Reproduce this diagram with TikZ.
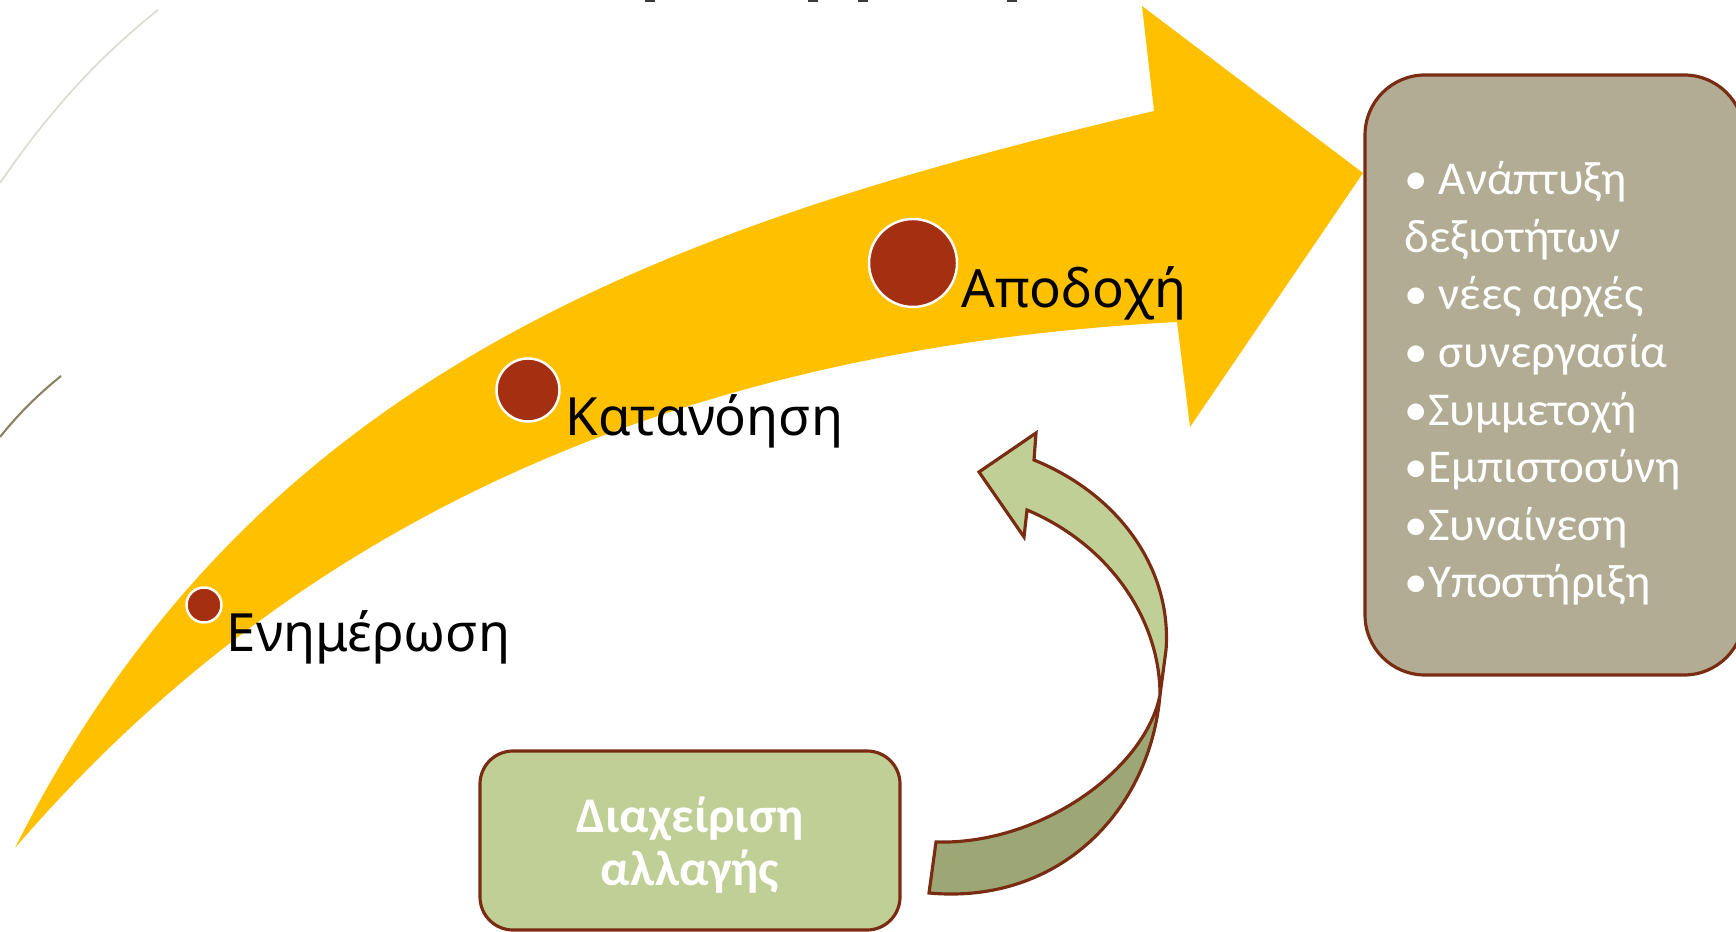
\documentclass[tikz,border=0pt]{standalone}
\usepackage{fontspec}
\setmainfont{Carlito}
\newfontfamily\stagefont{Noto Sans}
\usepackage{tikz}
\definecolor{arrowgold}{HTML}{FFC000}
\definecolor{dotred}{HTML}{A52F11}
\definecolor{edgered}{HTML}{7A2C12}
\definecolor{boxtan}{HTML}{B2AC94}
\definecolor{leafgreen}{HTML}{C0CF95}
\definecolor{shadegreen}{HTML}{9CA775}
\definecolor{faintgrey}{HTML}{DDDCD3}
\definecolor{olivegrey}{HTML}{8A8262}
\definecolor{titlegrey}{HTML}{3A3A3A}
\tikzset{
	stagedot/.style={fill=dotred, draw=white, line width=0.7pt},
	stagelabel/.style={anchor=base west, font=\stagefont\fontsize{15}{18}\selectfont},
	gainbox/.style={fill=boxtan, draw=edgered, line width=0.9pt, rounded corners=6mm},
	changebox/.style={fill=leafgreen, draw=edgered, line width=0.9pt, rounded corners=3.3mm}
}
\begin{document}
\begin{tikzpicture}[scale=0.1]
			\tikzstyle{every node}+=[inner sep=0pt]
			\useasboundingbox (0,0) rectangle (173.6,-93.2);
			% background strokes and cut title
			\draw [faintgrey, line width=0.5pt] (0,-18.3) .. controls (5,-11) and (10,-5.6) .. (15.8,-1.0);
			\draw [olivegrey, line width=0.6pt] (0,-43.7) .. controls (2,-41.2) and (4,-39.3) .. (6.1,-37.6);
			\fill [titlegrey] (64.5,0) rectangle (65.5,-0.25);
			\fill [titlegrey] (80.8,0) rectangle (81.8,-0.25);
			\fill [titlegrey] (85.8,0) rectangle (86.8,-0.25);
			\fill [titlegrey] (100.7,0) rectangle (101.7,-0.25);
			% big arrow
			\fill [arrowgold] (1.5,-84.8) .. controls (25,-38) and (65,-23) .. (115.4,-11.1) -- (114.2,-0.6) -- (136.3,-17.3) -- (119.0,-42.7) -- (117.7,-32.2) .. controls (65,-35) and (28,-54) .. (1.5,-84.8);
			\draw [stagedot] (20.4,-60.5) circle (1.75);
			\draw (22.6,-65.2) node [stagelabel] (inform) {Ενημέρωση};
			\draw [stagedot] (52.8,-39.0) circle (3.15);
			\draw (56.5,-43.6) node [stagelabel] (grasp) {Κατανόηση};
			\draw [stagedot] (91.3,-26.3) circle (4.4);
			\draw (96.1,-30.8) node [stagelabel] (accept) {Αποδοχή};
			% gains
			\draw [gainbox] (136.5,-7.5) rectangle (174.4,-67.5);
			\draw (140.4,-59.8) node [anchor=base west, align=left, text=white, font=\fontsize{13.4}{16.4}\selectfont] (gains) {• Ανάπτυξη\\δεξιοτήτων\\• νέες αρχές\\• συνεργασία\\•Συμμετοχή\\•Εμπιστοσύνη\\•Συναίνεση\\•Υποστήριξη};
			% change management
			\draw [changebox] (48.0,-75.1) rectangle (90.0,-93.0);
			\draw (69.0,-88.5) node [anchor=base, align=center, text=white, font=\bfseries\fontsize{14.2}{15}\selectfont] (change) {Διαχείριση\\αλλαγής};
			% curved arrow
			\filldraw [fill=shadegreen, draw=edgered, line width=0.9pt] (116.0,-69.5) .. controls (115.0,-81.0) and (106.0,-90.5) .. (92.9,-89.3) -- (93.6,-84.2) .. controls (104.0,-84.5) and (114.5,-77.0) .. (116.0,-69.5);
			\filldraw [fill=leafgreen, draw=edgered, line width=0.9pt] (103.4,-46.0) .. controls (112.0,-49.5) and (117.2,-57.0) .. (116.6,-65.0) -- (116.0,-69.5) .. controls (116.0,-62.0) and (111.0,-54.5) .. (102.7,-51.0) -- (102.4,-53.7) -- (97.9,-47.2) -- (103.6,-43.3) -- cycle;
		\end{tikzpicture}
\end{document}
